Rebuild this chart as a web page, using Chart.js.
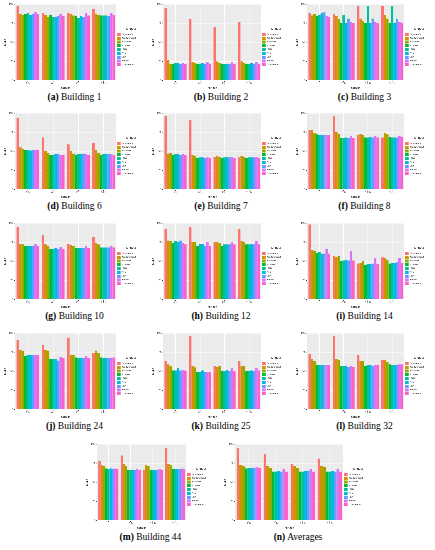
<!DOCTYPE html>
<html lang="en">
<head>
  <meta charset="UTF-8">
  <script src="https://cdn.jsdelivr.net/npm/chart.js"></script>
  <title>Buildings</title>
  <style>
    body{ margin:0; background:#fff; }
    #page{ position:relative; width:435px; height:550px; }
    .panel{ position:absolute; }
    .panel canvas{ display:block; }
    .cap{
      position:absolute; left:0; right:0; text-align:center;
      font-family:"Liberation Serif","DejaVu Serif",serif; font-size:9.5px; color:#000;
      white-space:nowrap;
    }
    .cap b{ font-weight:bold; }
  </style>
</head>
<body>
<div id="page"></div>
<script>
  var categories = ['1 h', '6 h', '12 h', '24 h'];
  var methods = ['Persistence', 'RandomForest', 'AdaBoost', 'XGBoost', 'LSTM', 'CNN', 'MLP', 'Prophet', 'Transformer'];
  var yTicks = [0, 25, 50, 75, 100];

  // one row per category, nine values per row (one per method)
  var b1  = [[97,87,86,87,88,86,87,89,87],[88,86,83,86,83,83,84,87,84],[88,87,85,84,82,84,83,88,85],[93,87,86,85,85,85,84,88,86]];
  var b2  = [[95,27,22,22,23,23,22,23,22],[80,24,23,22,22,23,22,24,22],[70,25,23,22,22,22,22,24,22],[76,25,23,22,22,23,22,24,22]];
  var b3  = [[88,85,87,84,86,88,89,84,83],[87,84,80,75,86,75,81,76,75],[97,81,78,75,97,75,81,76,75],[97,86,81,75,97,75,81,76,75]];
  var b6  = [[93,55,53,52,52,51,52,52,52],[68,50,48,45,45,46,46,45,45],[59,50,47,45,46,46,47,46,45],[61,52,48,45,46,46,46,46,45]];
  var b7  = [[96,47,48,45,46,46,45,46,45],[91,45,44,41,42,42,41,42,41],[43,44,43,41,42,43,42,43,41],[42,44,43,41,42,42,42,43,41]];
  var b8  = [[78,78,74,72,71,71,71,71,71],[96,75,73,67,67,68,67,70,67],[71,73,71,68,68,69,68,70,68],[68,74,72,69,68,68,68,70,69]];
  var b10 = [[95,73,72,70,70,70,70,72,70],[84,72,70,66,66,67,66,69,66],[73,71,70,67,67,67,67,70,67],[82,74,72,68,68,68,68,70,68]];
  var b12 = [[92,77,76,74,76,75,77,74,72],[95,75,75,70,73,73,70,75,70],[75,75,74,70,72,72,72,75,72],[92,76,75,72,72,72,72,76,72]];
  var b14 = [[98,65,64,61,62,60,60,66,60],[57,56,57,50,51,52,51,63,51],[47,48,50,45,46,46,47,54,46],[55,54,52,47,48,48,49,54,48]];
  var b24 = [[91,78,76,70,71,71,71,71,71],[84,78,77,66,66,66,64,69,67],[94,71,71,68,67,67,67,70,67],[74,77,74,68,67,67,67,67,68]];
  var b25 = [[63,59,57,51,51,54,51,52,51],[96,57,55,49,49,51,49,49,49],[57,56,57,50,50,52,50,54,50],[63,57,57,50,50,51,50,54,51]];
  var b32 = [[73,66,63,58,58,58,58,58,58],[96,66,65,57,57,57,56,57,56],[71,63,63,57,58,58,57,58,58],[65,65,62,59,58,58,58,59,59]];
  var b44 = [[78,73,71,68,67,68,67,68,67],[85,74,71,66,66,66,66,67,66],[66,73,71,66,66,66,66,67,66],[95,74,73,67,67,67,67,68,67]];
  var avg = [[95,73,71,68,69,69,69,70,69],[87,71,69,64,64,65,64,67,64],[74,71,69,64,64,65,65,67,64],[81,71,70,64,64,65,64,67,64]];

  var panels = [
    ['a', 'Building 1', b1], ['b', 'Building 2', b2], ['c', 'Building 3', b3],
    ['d', 'Building 6', b6], ['e', 'Building 7', b7], ['f', 'Building 8', b8],
    ['g', 'Building 10', b10], ['h', 'Building 12', b12], ['i', 'Building 14', b14],
    ['j', 'Building 24', b24], ['k', 'Building 25', b25], ['l', 'Building 32', b32],
    ['m', 'Building 44', b44], ['n', 'Averages', avg]
  ];

  // ggplot default hue palette
  var colors = ['#F8766D', '#D39200', '#93AA00', '#00BA38', '#00C19F', '#00B9E3', '#619CFF', '#DB72FB', '#FF61C3'];

  // left, top, width for each panel
  var layout = [
    [2, 1, 145], [150, 1, 142], [294, 1, 141],
    [2, 110, 145], [150, 110, 142], [294, 110, 141],
    [2, 220, 145], [150, 220, 142], [294, 220, 141],
    [2, 330, 145], [150, 330, 142], [294, 330, 141],
    [84, 441, 133], [222, 441, 152]
  ];
  var chartH = 89;

  var grayBg = {
    id: 'grayBg',
    beforeDraw: function(chart){
      var a = chart.chartArea, c = chart.ctx;
      c.save();
      c.fillStyle = '#EBEBEB';
      c.fillRect(a.left, a.top, a.right - a.left, a.bottom - a.top);
      c.restore();
    }
  };

  var page = document.getElementById('page');
  var tiny = { size: 2.6, family: 'DejaVu Sans' };

  panels.forEach(function(p, k){
    var pos = layout[k];
    var div = document.createElement('div');
    div.className = 'panel';
    div.style.left = pos[0] + 'px';
    div.style.top = pos[1] + 'px';
    div.style.width = pos[2] + 'px';
    div.style.height = (chartH + 14) + 'px';
    var cv = document.createElement('canvas');
    cv.width = pos[2];
    cv.height = chartH;
    cv.style.width = pos[2] + 'px';
    cv.style.height = chartH + 'px';
    div.appendChild(cv);
    var cap = document.createElement('div');
    cap.className = 'cap';
    cap.style.top = (chartH + 2) + 'px';
    cap.innerHTML = '<b>(' + p[0] + ')</b> ' + p[1];
    div.appendChild(cap);
    page.appendChild(div);

    var rows = p[2];
    var datasets = methods.map(function(m, j){
      return {
        label: m,
        data: rows.map(function(r){ return r[j]; }),
        backgroundColor: colors[j],
        borderWidth: 0,
        categoryPercentage: 0.9,
        barPercentage: 1.0
      };
    });

    new Chart(cv, {
      type: 'bar',
      data: { labels: categories, datasets: datasets },
      plugins: [grayBg],
      options: {
        responsive: false,
        animation: false,
        devicePixelRatio: 3,
        layout: { padding: { top: 3, right: 1, bottom: 0, left: 1 } },
        plugins: {
          tooltip: { enabled: false },
          legend: {
            position: 'right',
            align: 'center',
            title: { display: true, text: 'Method', font: { size: 2.6, family: 'DejaVu Sans' }, color: '#000', padding: 1 },
            labels: {
              boxWidth: 3.5, boxHeight: 3, padding: 0.8,
              font: { size: 2, family: 'DejaVu Sans' }, color: '#000'
            }
          }
        },
        scales: {
          x: {
            grid: { color: '#FFFFFF', lineWidth: 0.6, offset: false, drawTicks: true, tickLength: 1.2, tickColor: '#333' },
            border: { display: false },
            ticks: { font: tiny, color: '#4D4D4D', padding: 0.5, maxRotation: 0 },
            title: { display: true, text: 'horizon', font: tiny, color: '#000', padding: 0.5 }
          },
          y: {
            min: yTicks[0],
            max: yTicks[yTicks.length - 1],
            afterBuildTicks: function(ax){ ax.ticks = yTicks.map(function(v){ return { value: v }; }); },
            grid: { color: '#FFFFFF', lineWidth: 0.6, tickLength: 1.2, tickColor: '#333' },
            border: { display: false },
            ticks: { font: tiny, color: '#4D4D4D', padding: 0.5 },
            title: { display: true, text: 'MAPE', font: tiny, color: '#000', padding: 1 }
          }
        }
      }
    });
  });
</script>
</body>
</html>
